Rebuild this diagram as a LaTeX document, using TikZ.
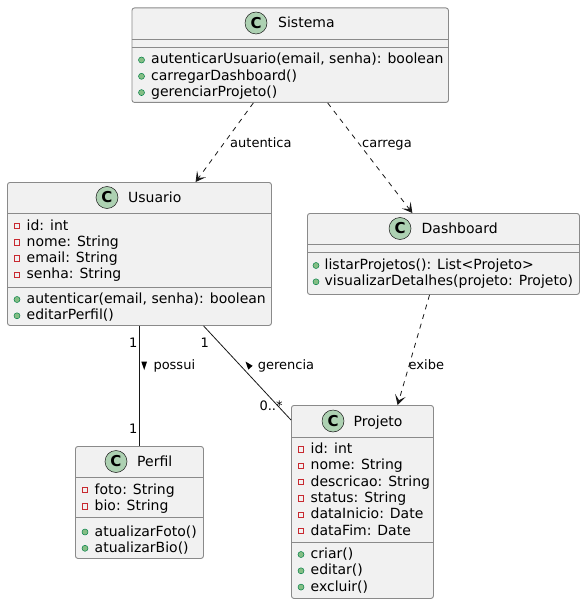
\documentclass[tikz,border=0pt]{standalone}
\usepackage{fontspec}
\setmainfont{DejaVu Sans}
\usetikzlibrary{arrows.meta,calc}
\definecolor{boxfill}{HTML}{F1F1F1}
\definecolor{boxline}{HTML}{181818}
\definecolor{boxedge}{HTML}{8A8A8A}
\definecolor{circfill}{HTML}{ADD1B2}
\definecolor{privred}{HTML}{C82930}
\definecolor{pubfill}{HTML}{84BE84}
\definecolor{publine}{HTML}{038048}
\tikzset{
  classbox/.style={draw=boxedge, fill=boxfill, line width=0.9pt, rounded corners=2.5pt, inner sep=0pt, anchor=north west},
  sepline/.style={draw=boxedge, line width=0.9pt},
  member/.style={anchor=base west, inner sep=0pt, font=\fontsize{14}{16}\selectfont},
  ccircle/.style={circle, draw=boxline, line width=0.5pt, fill=circfill, minimum size=22pt, inner sep=0pt, font=\fontsize{15}{15}\selectfont\bfseries},
  pubicon/.style={circle, draw=publine, fill=pubfill, line width=0.5pt, minimum size=6pt, inner sep=0pt},
  privicon/.style={rectangle, draw=privred, line width=0.8pt, minimum size=5.5pt, inner sep=0pt},
  lbl/.style={anchor=base west, inner sep=0pt, font=\fontsize{13}{15}\selectfont},
  dep/.style={draw=boxline, line width=0.8pt, dash pattern=on 5pt off 5pt, -{Stealth[length=10pt,width=11pt,inset=5pt]}},
  assoc/.style={draw=boxline, line width=0.8pt},
  dirtri/.style={fill=black, draw=none}
}
% name, icon x, text x, center y, text
\newcommand{\umlpub}[5]{%
  \node[pubicon] (#1i) at (#2,#4+1) {};
  \node[member] (#1) at (#3,#4+5) {#5};}
\newcommand{\umlpriv}[5]{%
  \node[privicon] (#1i) at (#2,#4+1) {};
  \node[member] (#1) at (#3,#4+5) {#5};}
\begin{document}
\begin{tikzpicture}[x=1pt,y=-1pt]
\useasboundingbox (0,0) rectangle (585,604);

% ---------------- Sistema
\node[classbox, minimum width=316.5pt, minimum height=94.5pt] (sis) at (131.5,7.5) {};
\node[ccircle] (sisc) at (256,23) {C};
\node[member] (sist) at (278,28) {Sistema};
\draw[sepline] (131.5,39) -- (448,39);
\draw[sepline] (131.5,47) -- (448,47);
\umlpub{s1}{141.5}{151}{59}{autenticarUsuario(email, senha): boolean}
\umlpub{s2}{141.5}{151}{75.3}{carregarDashboard()}
\umlpub{s3}{141.5}{151}{91.6}{gerenciarProjeto()}

% ---------------- Usuario
\node[classbox, minimum width=264pt, minimum height=143pt] (usu) at (7,182) {};
\node[ccircle] (usuc) at (107,197.5) {C};
\node[member] (usut) at (128,202.5) {Usuario};
\draw[sepline] (7,213) -- (271,213);
\umlpriv{u1}{17}{26.5}{225}{id: int}
\umlpriv{u2}{17}{26.5}{241.3}{nome: String}
\umlpriv{u3}{17}{26.5}{257.6}{email: String}
\umlpriv{u4}{17}{26.5}{273.9}{senha: String}
\draw[sepline] (7,287) -- (271,287);
\umlpub{u5}{17}{26.5}{298.5}{autenticar(email, senha): boolean}
\umlpub{u6}{17}{26.5}{314.8}{editarPerfil()}

% ---------------- Dashboard
\node[classbox, minimum width=272pt, minimum height=81pt] (das) at (307,213) {};
\node[ccircle] (dasc) at (400,228.5) {C};
\node[member] (dast) at (421.5,233.5) {Dashboard};
\draw[sepline] (307,244) -- (579,244);
\draw[sepline] (307,252) -- (579,252);
\umlpub{d1}{316}{324.5}{264.5}{listarProjetos(): List<Projeto>}
\umlpub{d2}{316}{324.5}{280.8}{visualizarDetalhes(projeto: Projeto)}

% ---------------- Perfil
\node[classbox, minimum width=128pt, minimum height=112pt] (per) at (75,446) {};
\node[ccircle] (perc) at (116,461.5) {C};
\node[member] (pert) at (137,466.5) {Perfil};
\draw[sepline] (75,477) -- (203,477);
\umlpriv{p1}{85}{94.5}{489}{foto: String}
\umlpriv{p2}{85}{94.5}{505.3}{bio: String}
\draw[sepline] (75,517) -- (203,517);
\umlpub{p3}{85}{94.5}{531}{atualizarFoto()}
\umlpub{p4}{85}{94.5}{547.3}{atualizarBio()}

% ---------------- Projeto
\node[classbox, minimum width=142pt, minimum height=193pt] (pro) at (291,405) {};
\node[ccircle] (proc) at (333,421) {C};
\node[member] (prot) at (353.5,426) {Projeto};
\draw[sepline] (291,437) -- (433,437);
\umlpriv{r1}{301}{310.5}{448.5}{id: int}
\umlpriv{r2}{301}{310.5}{464.8}{nome: String}
\umlpriv{r3}{301}{310.5}{481.1}{descricao: String}
\umlpriv{r4}{301}{310.5}{497.4}{status: String}
\umlpriv{r5}{301}{310.5}{513.7}{dataInicio: Date}
\umlpriv{r6}{301}{310.5}{530}{dataFim: Date}
\draw[sepline] (291,542) -- (433,542);
\umlpub{r7}{301}{310.5}{553.5}{criar()}
\umlpub{r8}{301}{310.5}{569.8}{editar()}
\umlpub{r9}{301}{310.5}{586.1}{excluir()}

% ---------------- Connectors
\draw[dep] ($(sis.south west)!0.384!(sis.south east)$) -- ($(usu.north west)!0.712!(usu.north east)$);
\node[lbl] (lautentica) at (230,147) {autentica};

\draw[dep] ($(sis.south west)!0.618!(sis.south east)$) -- ($(das.north west)!0.386!(das.north east)$);
\node[lbl] (lcarrega) at (362,147) {carrega};

\draw[dep] ($(das.south west)!0.449!(das.south east)$) -- ($(pro.north west)!0.746!(pro.north east)$);
\node[lbl] (lexibe) at (408.5,369.5) {exibe};

\draw[assoc] (usu.south) -- (per.north);
\node[lbl] (m1a) at (128.8,347.7) {1};
\node[lbl] (m1b) at (128.8,433) {1};
\fill[dirtri] (141.3,361.5) -- (147,361.5) -- (144.2,370) -- cycle;
\node[lbl] (lpossui) at (153.3,369.5) {possui};

\draw[assoc] ($(usu.south west)!0.742!(usu.south east)$) -- ($(pro.north west)+(0,15)$);
\node[lbl] (m2a) at (200.5,347.7) {1};
\node[lbl] (m2b) at (259.3,410.7) {0..*};
\fill[dirtri] (245.5,361.5) -- (252.6,365.8) -- (248.3,369.6) -- cycle;
\node[lbl] (lgerencia) at (257.7,369.5) {gerencia};
\end{tikzpicture}
\end{document}
